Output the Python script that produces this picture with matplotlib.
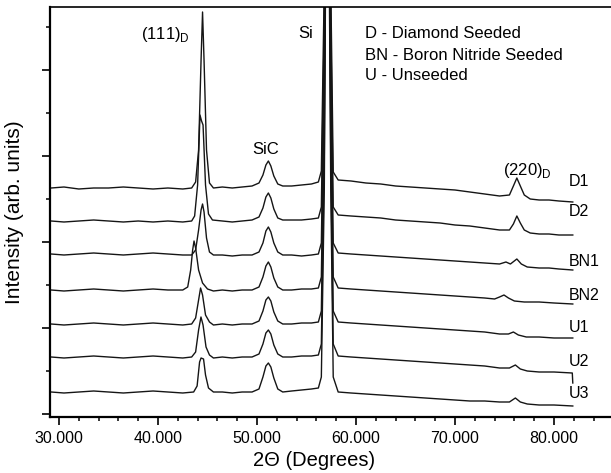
import matplotlib
matplotlib.use("Agg")
import matplotlib.pyplot as plt
from matplotlib.ticker import MultipleLocator, FixedLocator, NullFormatter

plt.rcParams["font.family"] = ["Liberation Sans", "DejaVu Sans"]
plt.rcParams["mathtext.fontset"] = "custom"
plt.rcParams["mathtext.rm"] = "Liberation Sans"

# =====================================
# Data (2-theta in degrees, intensity in arb. units)
# =====================================
d1_x = [29.2, 30.5, 32, 33.5, 35, 36.5, 38, 39.5, 41, 42.5, 43.4, 43.8, 44.1, 44.35, 44.5,
        44.65, 44.9, 45.2, 45.6, 46.5, 47.5, 48.5, 49.5, 50.2, 50.6, 50.9, 51.15, 51.4, 51.7,
        52.1, 52.6, 53.5, 54.5, 55.5, 56.2, 56.5, 56.8, 57.1, 57.45, 57.7, 58.2, 59.5, 61,
        62.5, 64, 65.5, 67, 68.5, 70, 71.5, 73, 74.5, 75.5, 75.9, 76.25, 76.6, 77.0, 77.6,
        78.5, 79.5, 80.5, 81.9]
d1_y = [229, 230, 228, 229, 229, 230, 229, 228, 229, 228, 229, 235, 267, 357, 405,
        357, 267, 234, 229, 230, 229, 230, 231, 234, 242, 252, 256, 251, 241,
        233, 231, 231, 232, 233, 235, 246, 434, 934, 434, 245, 237, 236, 234,
        233, 231, 230, 229, 228, 227, 225, 223, 221, 222, 231, 239, 231, 222, 218,
        217, 217, 216, 215]

d2_x = [29.2, 30.5, 32, 33.5, 35, 36.5, 38, 39.5, 41, 42.5, 43.4, 43.7, 44.0, 44.24, 44.4,
        44.55, 44.8, 45.1, 45.5, 46.5, 47.5, 48.5, 49.5, 50.2, 50.6, 50.9, 51.15, 51.4, 51.7,
        52.1, 52.6, 53.5, 54.5, 55.5, 56.2, 56.5, 56.8, 57.1, 57.45, 57.7, 58.2, 59.5, 61,
        62.5, 64, 65.5, 67, 68.5, 70, 71.5, 73, 74.5, 75.5, 75.9, 76.25, 76.6, 77.0, 77.6,
        78.5, 79.5, 80.5, 81.9]
d2_y = [196, 195, 196, 197, 196, 195, 196, 195, 196, 195, 196, 201, 232, 302, 296,
        292, 232, 203, 197, 196, 195, 196, 197, 200, 209, 220, 224, 219, 208,
        199, 197, 197, 197, 198, 199, 210, 399, 899, 399, 210, 202, 201, 200,
        199, 197, 196, 195, 194, 192, 191, 189, 187, 187, 193, 201, 194, 187, 184,
        183, 183, 182, 182]

bn1_x = [29.2, 30.5, 32, 33.5, 35, 36.5, 38, 39.5, 41, 42.5, 43.4, 43.8, 44.1, 44.35, 44.5,
         44.65, 44.9, 45.2, 45.6, 46.5, 47.5, 48.5, 49.5, 50.2, 50.6, 50.9, 51.15, 51.4, 51.7,
         52.1, 52.6, 53.5, 54.5, 55.5, 56.2, 56.5, 56.8, 57.1, 57.45, 57.7, 58.2, 59.5, 61,
         62.5, 64, 65.5, 67, 68.5, 70, 71.5, 73, 74.5, 75.15, 75.6, 76.25, 76.7, 77.3,
         78.5, 79.5, 80.5, 81.9]
bn1_y = [163, 162, 163, 164, 163, 162, 163, 164, 163, 162, 162, 167, 187, 207, 213,
         205, 179, 165, 162, 162, 161, 162, 162, 165, 174, 186, 190, 185, 174,
         165, 162, 162, 161, 162, 163, 174, 363, 863, 363, 174, 164, 163, 162,
         161, 160, 159, 158, 157, 156, 155, 154, 153, 155, 153, 158, 153, 150,
         149, 149, 148, 147]

bn2_x = [29.2, 30.5, 32, 33.5, 35, 36.5, 38, 39.5, 41, 42.5, 43.0, 43.3, 43.5, 43.64, 43.8,
         44.1, 44.5, 45.0, 45.6, 46.5, 47.5, 48.5, 49.5, 50.2, 50.6, 50.9, 51.15, 51.4, 51.7,
         52.1, 52.6, 53.5, 54.5, 55.5, 56.2, 56.5, 56.8, 57.1, 57.45, 57.7, 58.2, 59.5, 61,
         62.5, 64, 65.5, 67, 68.5, 70, 71.5, 73, 74.0, 74.5, 74.95, 75.4, 76.0, 77,
         78.5, 80, 81.9]
bn2_y = [127, 126, 127, 128, 127, 126, 127, 128, 127, 127, 130, 147, 167, 176, 169,
         147, 134, 128, 126, 127, 126, 127, 127, 130, 140, 151, 155, 150, 139,
         130, 127, 127, 128, 128, 129, 140, 329, 829, 329, 140, 129, 128, 127,
         126, 125, 124, 123, 122, 121, 120, 119, 118, 120, 122, 119, 116, 115,
         115, 114, 113]

u1_x = [29.2, 30.5, 32, 33.5, 35, 36.5, 38, 39.5, 41, 42.5, 43.4, 43.8, 44.05, 44.3, 44.5,
        44.8, 45.2, 45.6, 46.5, 47.5, 48.5, 49.5, 50.2, 50.6, 50.9, 51.15, 51.4, 51.7,
        52.1, 52.6, 53.5, 54.5, 55.5, 56.2, 56.5, 56.8, 57.1, 57.45, 57.7, 58.2, 59.5, 61,
        62.5, 64, 65.5, 67, 68.5, 70, 71.5, 73, 74.5, 75.4, 75.9, 76.4, 77.2,
        78.5, 80, 81.9]
u1_y = [93, 92, 93, 94, 93, 92, 93, 94, 93, 92, 93, 99, 114, 129, 122,
        102, 95, 92, 93, 92, 93, 93, 96, 106, 117, 120, 116, 105,
        96, 93, 93, 94, 94, 95, 106, 295, 795, 295, 106, 95, 94, 93,
        92, 91, 90, 89, 88, 87, 86, 85, 83, 83, 85, 82, 80,
        80, 79, 79]

u2_x = [29.2, 30.5, 32, 33.5, 35, 36.5, 38, 39.5, 41, 42.5, 43.4, 43.8, 44.1, 44.34, 44.55,
        44.85, 45.2, 45.6, 46.5, 47.5, 48.5, 49.5, 50.2, 50.6, 50.9, 51.15, 51.4, 51.7,
        52.1, 52.6, 53.5, 54.5, 55.5, 56.2, 56.5, 56.8, 57.1, 57.45, 57.7, 58.2, 59.5, 61,
        62.5, 64, 65.5, 67, 68.5, 70, 71.5, 73, 74.5, 75.5, 76.1, 76.6, 77.3,
        78.5, 80, 81.85, 81.9]
u2_y = [60, 59, 60, 61, 60, 59, 60, 61, 60, 59, 60, 65, 87, 100, 92,
        70, 62, 59, 60, 59, 60, 60, 63, 73, 84, 87, 83, 72,
        63, 60, 60, 61, 61, 62, 73, 262, 762, 262, 73, 61, 60, 59,
        58, 57, 56, 55, 54, 53, 52, 51, 49, 49, 52, 48, 46,
        45, 45, 44, 34]

u3_x = [29.2, 30.5, 32, 33.5, 35, 36.5, 38, 39.5, 41, 42.5, 43.6, 43.95, 44.2, 44.35, 44.6,
        44.8, 45.1, 45.6, 46.5, 47.5, 48.5, 49.5, 50.2, 50.6, 50.9, 51.15, 51.4, 51.7,
        52.1, 52.6, 53.5, 54.5, 55.5, 56.2, 56.5, 56.8, 57.1, 57.45, 57.7, 58.2, 59.5, 61,
        62.5, 64, 65.5, 67, 68.5, 70, 71.5, 73, 74.5, 75.5, 76.1, 76.6, 77.3,
        78.5, 80, 81.9]
u3_y = [25, 24, 25, 26, 25, 24, 25, 26, 25, 24, 25, 31, 55, 59, 58,
        42, 29, 25, 25, 24, 25, 25, 28, 40, 51, 54, 50, 39,
        28, 25, 26, 27, 28, 29, 40, 229, 729, 229, 40, 25, 24, 23,
        22, 21, 20, 19, 18, 17, 16, 16, 15, 15, 19, 15, 13,
        12, 12, 11]

trace_names = ["D1", "D2", "BN1", "BN2", "U1", "U2", "U3"]
trace_xs = [d1_x, d2_x, bn1_x, bn2_x, u1_x, u2_x, u3_x]
trace_ys = [d1_y, d2_y, bn1_y, bn2_y, u1_y, u2_y, u3_y]
# label anchor (2-theta, intensity) for each trace name
label_x = [81.5, 81.5, 81.5, 81.5, 81.5, 81.5, 81.5]
label_y = [235, 205, 155, 121, 90, 55, 24]

legend_lines = ["D - Diamond Seeded", "BN - Boron Nitride Seeded", "U - Unseeded"]
x_major = [30, 40, 50, 60, 70, 80]
y_major = [3, 89, 175, 261, 347]
y_minor = [46, 132, 218, 304, 390]

# =====================================
# Plot
# =====================================
fig = plt.figure(figsize=(6.11, 4.73), dpi=100)
ax = fig.add_axes([50 / 611, 56 / 473, 561 / 611, 410 / 473])

for xs, ys in zip(trace_xs, trace_ys):
    ax.plot(xs, ys, color="#151515", linewidth=1.0)

ax.set_xlim(29.09, 85.76)
ax.set_ylim(0, 410)

ax.spines["right"].set_visible(False)
ax.spines["left"].set_linewidth(1.6)
ax.spines["bottom"].set_linewidth(1.6)
ax.spines["top"].set_linewidth(1.2)

ax.xaxis.set_major_locator(FixedLocator(x_major))
ax.xaxis.set_minor_locator(MultipleLocator(2))
ax.set_xticklabels([f"{v:.3f}" for v in x_major])
ax.yaxis.set_major_locator(FixedLocator(y_major))
ax.yaxis.set_minor_locator(FixedLocator(y_minor))
ax.yaxis.set_major_formatter(NullFormatter())

ax.tick_params(which="major", direction="out", length=5.5, width=1.2, labelsize=11.5, pad=4.5)
ax.tick_params(which="minor", direction="out", length=2.8, width=1.1)
ax.tick_params(top=False, right=False, which="both")

ax.set_xlabel("2\u0398 (Degrees)", fontsize=14.5)
ax.xaxis.set_label_coords((314 - 50) / 561, -0.082)
ax.set_ylabel("Intensity (arb. units)", fontsize=15, labelpad=9)

# peak annotations
ax.text(38.28, 383, r"(111)$_\mathregular{D}$", fontsize=12, ha="left", va="center")
ax.text(54.14, 383, "Si", fontsize=12, ha="left", va="center")
ax.text(49.5, 267, "SiC", fontsize=12, ha="left", va="center")
ax.text(74.85, 247, r"(220)$_\mathregular{D}$", fontsize=12, ha="left", va="center")

for i, line in enumerate(legend_lines):
    ax.text(60.91, 383 - 21 * i, line, fontsize=12, ha="left", va="center")

for name, lx, ly in zip(trace_names, label_x, label_y):
    ax.text(lx, ly, name, fontsize=11.5, ha="left", va="center")

fig.savefig("out.png", dpi=100)
